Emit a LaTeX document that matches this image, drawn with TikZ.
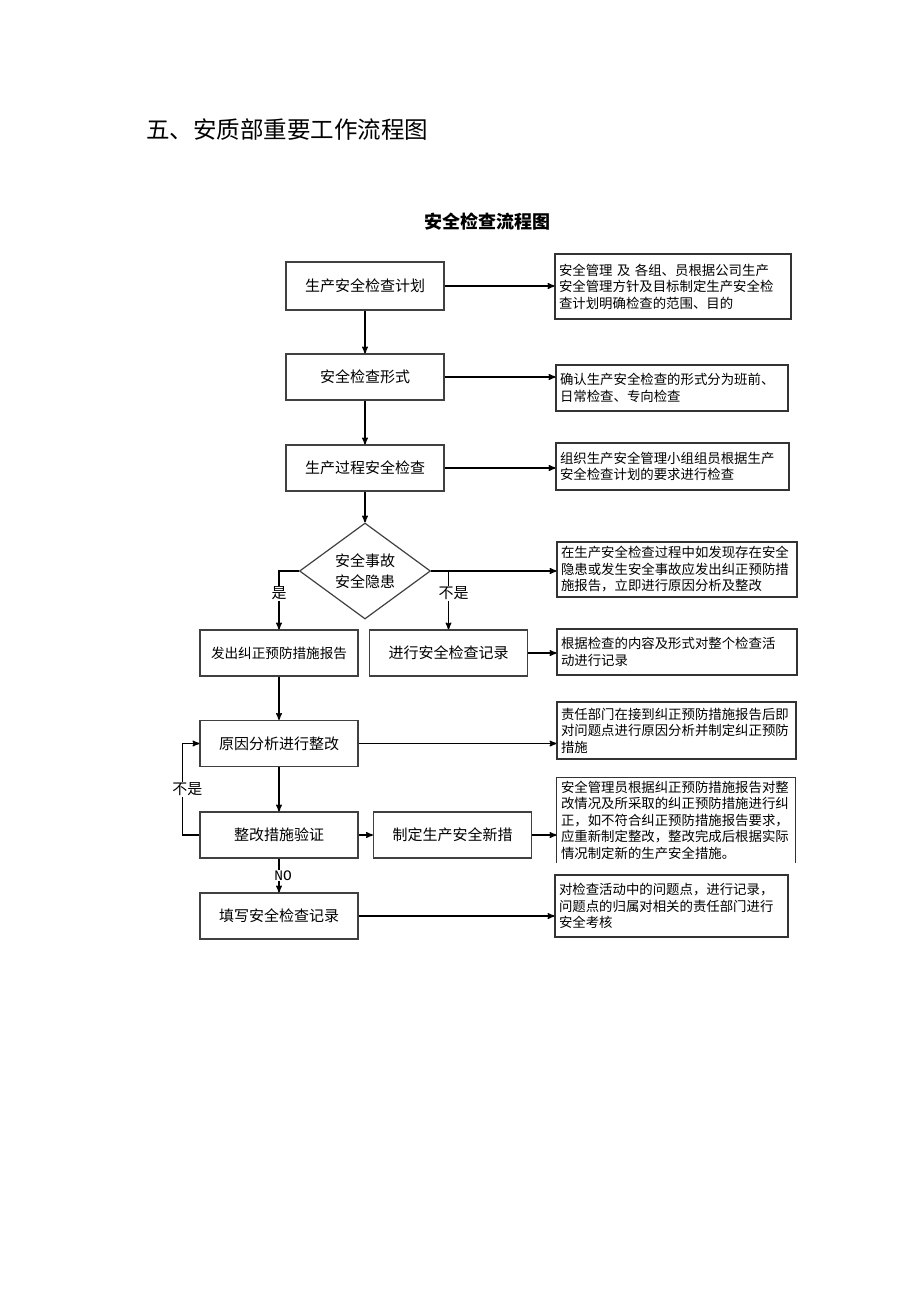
\documentclass[tikz,border=0pt]{standalone}
\usepackage{fontspec}
\setmainfont{Noto Sans CJK SC}
\newfontfamily\monofont{Liberation Mono}
\usetikzlibrary{arrows,shapes.geometric,positioning}
\tikzset{
    %Define standard arrow tip
    >=stealth',
    %Define style for the boxes of the main column
    kasten/.style={
           rectangle,
           draw=black!75,
           line width=1.2pt,
           minimum width=158pt,
           minimum height=46pt,
           font=\fontsize{15}{18}\selectfont},
    %Define style for the notes on the right
    notiz/.style={
           rectangle,
           draw=black!80,
           line width=1.1pt,
           align=left,
           inner xsep=4pt,
           inner ysep=0pt,
           font=\fontsize{13.4}{16.5}\selectfont},
    %Define style for the decision
    raute/.style={
           diamond,
           draw=black!75,
           line width=1.2pt,
           aspect=1.36,
           minimum width=131pt,
           minimum height=96pt,
           inner sep=0pt,
           align=center,
           font=\fontsize{15}{21}\selectfont},
    % Define arrow style
    pil/.style={
           ->,
           line width=1.4pt},
    % Define style for branch labels
    marke/.style={
           fill=white,
           inner sep=1pt,
           font=\fontsize{15}{18}\selectfont}
}
\begin{document}
\begin{tikzpicture}[x=1pt,y=-1pt]
  \useasboundingbox (0,0) rectangle (920,1302);
  \node[font=\fontsize{23.5}{26}\selectfont] (titel) at (287,130) {五、安质部重要工作流程图};
  \node[font=\fontsize{18}{20}\selectfont\bfseries] (untertitel) at (487,222) {安全检查流程图};

  % main column
  \node[kasten,minimum height=48pt] (plan) at (365,286) {生产安全检查计划};
  \node[kasten] (form) at (365,377) {安全检查形式};
  \node[kasten] (ablauf) at (365,468) {生产过程安全检查};
  \node[raute] (frage) at (365,571) {安全事故\\安全隐患};
  \node[kasten,font=\fontsize{13.6}{16}\selectfont] (bericht) at (279,653) {发出纠正预防措施报告};
  \node[kasten] (protokoll) at (448.5,653) {进行安全检查记录};
  \node[kasten] (ursache) at (279,743.5) {原因分析进行整改};
  \node[kasten] (pruefung) at (279,835) {整改措施验证};
  \node[kasten] (neu) at (452.5,835) {制定生产安全新措};
  \node[kasten] (eintrag) at (279,916) {填写安全检查记录};

  % notes
  \node[notiz,text width=228pt,minimum height=65pt] (n1) at (673,286.5)
    {安全管理\ 及\ 各组、员根据公司生产\\安全管理方针及目标制定生产安全检\\查计划明确检查的范围、目的};
  \node[notiz,text width=224pt,minimum height=46pt] (n2) at (672,388)
    {确认生产安全检查的形式分为班前、\\日常检查、专向检查};
  \node[notiz,text width=225pt,minimum height=47pt] (n3) at (672.5,466.5)
    {组织生产安全管理小组组员根据生产\\安全检查计划的要求进行检查};
  \node[notiz,text width=232pt,minimum height=55pt] (n4) at (677,569.5)
    {在生产安全检查过程中如发现存在安全\\隐患或发生安全事故应发出纠正预防措\\施报告，立即进行原因分析及整改};
  \node[notiz,text width=232pt,minimum height=46pt] (n5) at (677,652)
    {根据检查的内容及形式对整个检查活\\动进行记录};
  \node[notiz,text width=231pt,minimum height=57pt] (n6) at (676.5,730.5)
    {责任部门在接到纠正预防措施报告后即\\对问题点进行原因分析并制定纠正预防\\措施};
  \node[notiz,draw=none,text width=230pt,minimum height=84pt] (n7) at (676,820)
    {安全管理员根据纠正预防措施报告对整\\改情况及所采取的纠正预防措施进行纠\\正，如不符合纠正预防措施报告要求，\\应重新制定整改，整改完成后根据实际\\情况制定新的生产安全措施。};
  \draw[draw=black!80,line width=1.1pt] (n7.south west) -- (n7.north west) -- (n7.north east) -- (n7.south east);
  \node[notiz,text width=225pt,minimum height=62pt] (n8) at (671.5,906)
    {对检查活动中的问题点，进行记录，\\问题点的归属对相关的责任部门进行\\安全考核};

  % flow
  \draw[pil] (plan) -- (form);
  \draw[pil] (form) -- (ablauf);
  \draw[pil] (ablauf) -- (frage);
  \draw[pil] (frage.west) -| node[marke,pos=0.69] {是} (bericht.north);
  \draw[pil] (frage.east) -| node[marke,pos=0.69,xshift=5pt] {不是} (protokoll.north);
  \draw[pil] (bericht) -- (ursache);
  \draw[pil] (ursache) -- (pruefung);
  \draw[pil] (pruefung.west) -- ++(-17,0) |- node[marke,pos=0.25,xshift=5pt] {不是} (ursache.west);
  \draw[pil] (pruefung) -- (neu);
  \draw[pil] (pruefung) -- node[marke,font=\monofont\fontsize{14.5}{16}\selectfont,xshift=4pt] {NO} (eintrag);

  % to the notes
  \draw[pil] (plan.east) -- (plan.east -| n1.west);
  \draw[pil] (form.east) -- (form.east -| n2.west);
  \draw[pil] (ablauf.east) -- (ablauf.east -| n3.west);
  \draw[pil] (frage.east) -- (frage.east -| n4.west);
  \draw[pil] (protokoll.east) -- (protokoll.east -| n5.west);
  \draw[pil] (ursache.east) -- (ursache.east -| n6.west);
  \draw[pil] (neu.east) -- (neu.east -| n7.west);
  \draw[pil] (eintrag.east) -- (eintrag.east -| n8.west);
\end{tikzpicture}
\end{document}
